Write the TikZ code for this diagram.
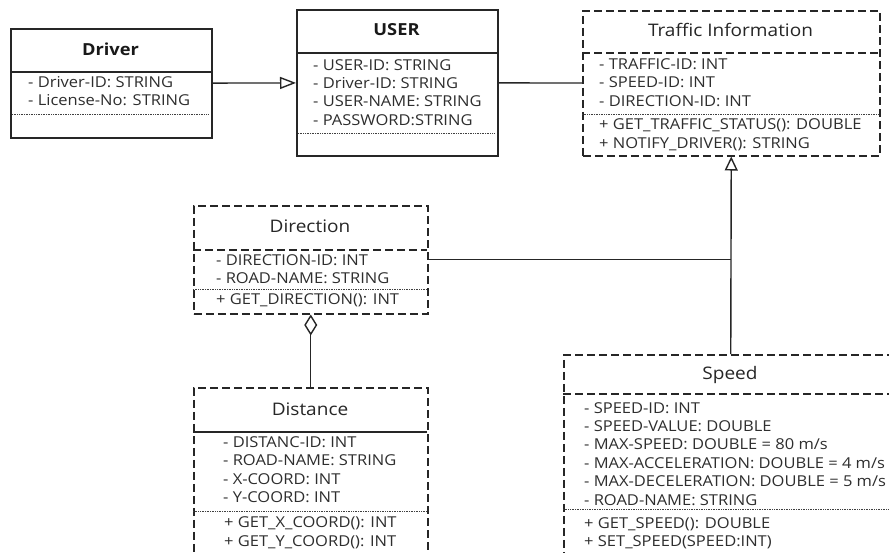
\documentclass[tikz,border=0pt]{standalone}
\usepackage{fontspec}
\setmainfont{Open Sans}[FakeStretch=1.1]
\usetikzlibrary{arrows.meta}

\begin{document}
\begin{tikzpicture}[x=1pt,y=-1pt]

	\tikzstyle{solidclass}=[draw=black!85,line width=1.5pt,
		anchor=north west,inner sep=0pt]
	\tikzstyle{dashedclass}=[solidclass,dash pattern=on 8pt off 4pt]
	\tikzstyle{ctitle}=[font=\fontsize{17.3}{20}\selectfont,text=black!85]
	\tikzstyle{btitle}=[font=\fontsize{16.6}{20}\selectfont\bfseries,text=black!90]
	% base anchor of a multi-line node sits on its last line
	\tikzstyle{members}=[align=left,anchor=base west,inner sep=0pt,
		font=\fontsize{15}{18.4}\selectfont,text=black!82]
	\tikzstyle{divider}=[draw=black!85,line width=1.5pt]
	\tikzstyle{dotsep}=[draw=black!75,line width=0.7pt,densely dotted]
	\tikzstyle{conn}=[draw=black!85,line width=1.4pt]

	\useasboundingbox (0,0) rectangle (889,552);
	\fill[white] (0,0) rectangle (889,552);
	\clip (0,0) rectangle (889,552);

	% Driver
	\node[solidclass,minimum width=201pt,minimum height=109pt] (driver) at (10,28) {};
	\node[btitle] (drivertitle) at (110.5,49) {Driver};
	\draw[divider] (10,72) -- (211,72);
	\node[members] (driverattr) at (28,105.6) {- Driver-ID: STRING\\- License-No: STRING};
	\draw[dotsep] (12,114) -- (209,114);

	% USER
	\node[solidclass,minimum width=201pt,minimum height=146pt] (user) at (296,9) {};
	\node[btitle] (usertitle) at (396.5,30) {USER};
	\draw[divider] (296,53) -- (497,53);
	\node[members] (userattr) at (313,125.2) {- USER-ID: STRING\\- Driver-ID: STRING\\- USER-NAME: STRING\\- PASSWORD:STRING};
	\draw[dotsep] (298,133) -- (495,133);

	% Traffic Information
	\node[dashedclass,minimum width=297pt,minimum height=145pt] (traffic) at (582,10) {};
	\node[ctitle] (traffictitle) at (730.5,30) {Traffic Information};
	\draw[divider,dash pattern=on 8pt off 4pt] (582,53) -- (879,53);
	\node[members] (trafficattr) at (599,106) {- TRAFFIC-ID: INT\\- SPEED-ID: INT\\- DIRECTION-ID: INT};
	\draw[dotsep] (582,114) -- (879,114);
	\node[members] (trafficops) at (599,148) {+ GET\_TRAFFIC\_STATUS(): DOUBLE\\+ NOTIFY\_DRIVER(): STRING};

	% Direction
	\node[dashedclass,minimum width=234pt,minimum height=108pt] (direction) at (193,205) {};
	\node[ctitle] (directiontitle) at (310,226) {Direction};
	\draw[divider,dash pattern=on 8pt off 4pt] (193,250) -- (427,250);
	\node[members] (directionattr) at (216,283.5) {- DIRECTION-ID: INT\\- ROAD-NAME: STRING};
	\draw[dotsep] (193,289) -- (427,289);
	\node[members] (directionops) at (216,304) {+ GET\_DIRECTION(): INT};

	% Distance
	\node[dashedclass,minimum width=234pt,minimum height=180pt] (distance) at (193,387) {};
	\node[ctitle] (distancetitle) at (310,409) {Distance};
	\draw[divider] (193,432) -- (427,432);
	\node[members] (distanceattr) at (223,502.5) {- DISTANC-ID: INT\\- ROAD-NAME: STRING\\- X-COORD: INT\\- Y-COORD: INT};
	\draw[dotsep] (193,511) -- (427,511);
	\node[members] (distanceops) at (224,546) {+ GET\_X\_COORD(): INT\\+ GET\_Y\_COORD(): INT};

	% Speed
	\node[dashedclass,minimum width=334pt,minimum height=215pt] (speed) at (563,354) {};
	\node[ctitle] (speedtitle) at (730,375) {Speed};
	\draw[divider,dash pattern=on 8pt off 4pt] (563,394) -- (897,394);
	\node[members] (speedattr) at (584,505) {- SPEED-ID: INT\\- SPEED-VALUE: DOUBLE\\- MAX-SPEED: DOUBLE = 80 m/s\\- MAX-ACCELERATION: DOUBLE = 4 m/s\\- MAX-DECELERATION: DOUBLE = 5 m/s\\- ROAD-NAME: STRING};
	\draw[dotsep] (563,509) -- (897,509);
	\node[members] (speedops) at (584,546.5) {+ GET\_SPEED(): DOUBLE\\+ SET\_SPEED(SPEED:INT)};

	% relations
	\draw[conn,-{Triangle[open,length=16pt,width=12pt]}] (driver) -- (user);
	\draw[conn] (user) -- (traffic);
	\draw[conn,-{Triangle[open,length=14pt,width=13pt]}] (speed.north) -- (traffic.south);
	\draw[conn] (direction.east) -- (direction.east -| traffic.south);
	\draw[conn,{Diamond[open,length=21pt,width=13pt]}-] (direction.south) -- (distance.north);

\end{tikzpicture}
\end{document}
